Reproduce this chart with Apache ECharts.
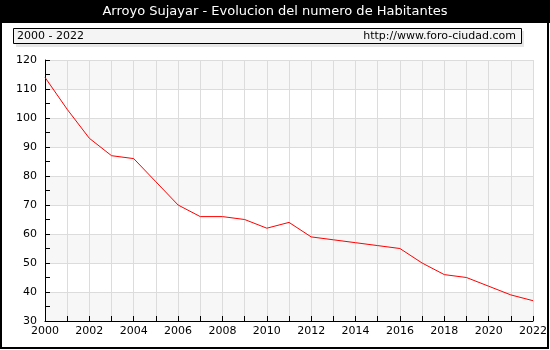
<!DOCTYPE html>
<html>
<head>
<meta charset="utf-8">
<script src="https://cdn.jsdelivr.net/npm/echarts@6/dist/echarts.min.js"></script>
<style>html,body{margin:0;padding:0;background:#fff}#c{width:550px;height:350px}</style>
</head>
<body>
<div id="c"></div>
<script>
const years = ['2000','2001','2002','2003','2004','2005','2006','2007','2008','2009','2010','2011','2012','2013','2014','2015','2016','2017','2018','2019','2020','2021','2022'];
const habitantes = [114,103,93,87,86,78,70,66,66,65,62,64,59,58,57,56,55,50,46,45,42,39,37];
const titleText = 'Arroyo Sujayar - Evolucion del numero de Habitantes';
const periodText = '2000 - 2022';
const siteText = 'http://www.foro-ciudad.com';

const chart = echarts.init(document.getElementById('c'), null, {renderer: 'canvas'});
const FONT = 'DejaVu Sans';
chart.setOption({
  animation: false,
  backgroundColor: '#fff',
  textStyle: {fontFamily: FONT},
  graphic: [
    {type: 'rect', shape: {x: 0, y: 0, width: 550, height: 23}, style: {fill: '#000'}, z: 10},
    {type: 'rect', shape: {x: 1, y: 1, width: 547, height: 347}, style: {fill: null, stroke: '#000', lineWidth: 2}, z: 10},
    {type: 'text', x: 275, y: 12, style: {text: titleText, fill: '#fff', font: '13px "DejaVu Sans"', align: 'center', verticalAlign: 'middle'}, z: 11},
    {type: 'rect', shape: {x: 16, y: 31, width: 508, height: 16}, style: {fill: '#e6e6e6'}, z: 10},
    {type: 'rect', shape: {x: 13.5, y: 28.5, width: 508, height: 15}, style: {fill: '#f4f4f4', stroke: '#000', lineWidth: 1}, z: 11},
    {type: 'text', x: 17, y: 36, style: {text: periodText, fill: '#000', font: '11px "DejaVu Sans"', align: 'left', verticalAlign: 'middle'}, z: 12},
    {type: 'text', x: 516, y: 36, style: {text: siteText, fill: '#000', font: '11px "DejaVu Sans"', align: 'right', verticalAlign: 'middle'}, z: 12}
  ],
  grid: {left: 45, top: 60, right: 14, bottom: 29, containLabel: false},
  xAxis: {
    type: 'category',
    data: years,
    boundaryGap: false,
    axisLine: {lineStyle: {color: '#000', width: 1}},
    axisTick: {show: true, inside: true, length: 5, interval: 0, lineStyle: {color: '#000'}},
    axisLabel: {interval: 1, color: '#000', fontSize: 11, fontFamily: FONT, margin: 5, showMaxLabel: true},
    splitLine: {show: true, interval: 0, lineStyle: {color: '#dcdcdc', width: 1}}
  },
  yAxis: [{
    type: 'value',
    min: 30, max: 120, interval: 10,
    axisLine: {show: true, lineStyle: {color: '#000', width: 1}},
    axisTick: {show: false},
    axisLabel: {color: '#000', fontSize: 11, fontFamily: FONT, margin: 8},
    splitLine: {show: true, lineStyle: {color: '#dcdcdc', width: 1}},
    splitArea: {show: true, areaStyle: {color: ['#f7f7f7', '#ffffff']}}
  }, {
    type: 'value',
    position: 'left',
    min: 30, max: 120, interval: 5,
    axisLine: {show: false},
    axisTick: {show: true, inside: true, length: 5, lineStyle: {color: '#000'}},
    axisLabel: {show: false},
    splitLine: {show: false},
    splitArea: {show: false}
  }],
  series: [{
    type: 'line',
    data: habitantes,
    symbol: 'none',
    lineStyle: {color: '#ff0000', width: 1},
    z: 5
  }]
});
</script>
</body>
</html>
